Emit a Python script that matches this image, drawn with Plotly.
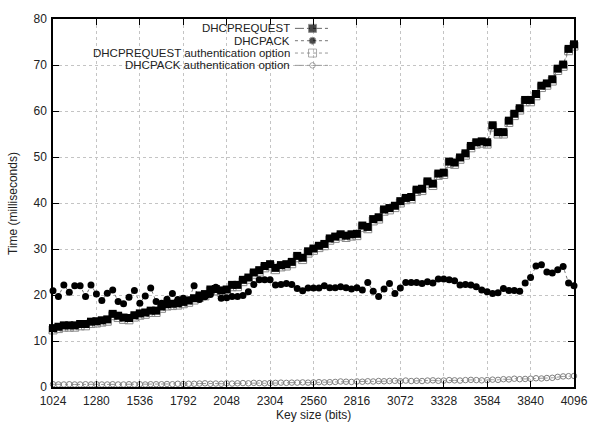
import plotly.graph_objects as go

# ---------------- data ----------------
KEY_BITS = list(range(1024, 4097, 32))  # 97 key sizes, step 32 bits

DHCPREQUEST = [
    12.8, 13.1, 13.4, 13.4, 13.4, 13.7, 13.7, 14.2, 14.3, 14.5,
    14.7, 15.9, 15.5, 15.1, 15.0, 15.6, 16.0, 16.2, 16.6, 16.6,
    17.5, 18.0, 18.1, 18.2, 18.5, 18.8, 19.3, 19.9, 20.2, 21.2,
    21.3, 21.0, 21.2, 22.2, 22.2, 23.3, 23.8, 24.9, 25.4, 26.3,
    26.7, 25.9, 26.5, 26.7, 27.2, 28.5, 28.1, 29.5, 30.1, 30.7,
    31.1, 32.3, 32.7, 33.2, 32.9, 33.2, 33.3, 35.1, 34.8, 36.5,
    36.9, 38.6, 38.9, 39.4, 40.4, 41.1, 41.3, 42.9, 43.1, 44.7,
    44.2, 46.4, 46.6, 49.0, 48.8, 49.9, 50.8, 52.4, 53.2, 53.4,
    53.2, 56.9, 55.4, 55.4, 57.9, 59.4, 60.6, 62.4, 62.4, 63.7,
    65.5, 66.0, 66.9, 69.2, 70.1, 73.5, 74.5,
]

DHCPACK = [
    20.9, 19.7, 22.2, 20.6, 22.0, 22.0, 19.7, 22.2, 20.2, 18.8,
    20.4, 21.1, 18.6, 18.1, 19.5, 21.0, 18.2, 19.8, 21.5, 18.6,
    18.2, 19.1, 20.3, 19.0, 19.3, 18.9, 22.0, 19.0, 19.6, 20.1,
    21.7, 19.3, 19.4, 19.7, 19.7, 19.9, 20.7, 22.3, 23.3, 23.3,
    23.3, 22.2, 22.3, 22.5, 22.3, 21.4, 20.9, 21.5, 21.5, 21.5,
    22.0, 21.6, 21.6, 21.8, 21.6, 21.3, 21.6, 21.1, 22.7, 20.8,
    19.7, 21.3, 22.5, 20.3, 21.5, 22.7, 22.7, 22.7, 22.5, 22.9,
    22.6, 23.5, 23.5, 23.3, 23.1, 22.2, 22.3, 22.2, 21.8, 21.1,
    20.7, 20.3, 20.5, 21.4, 21.0, 21.0, 20.8, 22.6, 23.8, 26.3,
    26.6, 25.0, 24.8, 25.5, 26.2, 22.6, 22.0,
]

DHCPREQUEST_AUTH = [
    12.4, 12.7, 13.0, 13.0, 13.0, 13.3, 13.3, 13.8, 13.9, 14.1,
    14.3, 15.5, 15.1, 14.7, 14.6, 15.2, 15.6, 15.8, 16.2, 16.2,
    17.1, 17.6, 17.7, 17.8, 18.1, 18.4, 18.9, 19.5, 19.8, 20.8,
    20.9, 20.6, 20.8, 21.8, 21.8, 22.9, 23.4, 24.5, 25.0, 25.9,
    26.3, 25.5, 26.1, 26.3, 26.8, 28.1, 27.7, 29.1, 29.7, 30.3,
    30.7, 31.9, 32.3, 32.8, 32.5, 32.8, 32.9, 34.7, 34.4, 36.1,
    36.5, 38.2, 38.5, 39.0, 40.0, 40.7, 40.9, 42.5, 42.7, 44.3,
    43.8, 46.0, 46.2, 48.6, 48.4, 49.5, 50.4, 52.0, 52.8, 53.0,
    52.8, 56.5, 55.0, 55.0, 57.5, 59.0, 60.2, 62.0, 62.0, 63.3,
    65.1, 65.6, 66.5, 68.8, 69.7, 73.1, 74.1,
]

DHCPACK_AUTH = [
    0.60, 0.55, 0.55, 0.60, 0.55, 0.55, 0.60, 0.55, 0.60, 0.55,
    0.55, 0.60, 0.55, 0.55, 0.60, 0.55, 0.60, 0.55, 0.60, 0.60,
    0.60, 0.65, 0.60, 0.70, 0.65, 0.70, 0.70, 0.75, 0.80, 0.70,
    0.75, 0.70, 0.80, 0.75, 0.80, 0.85, 0.80, 0.90, 0.85, 0.80,
    0.85, 0.90, 0.95, 0.90, 0.95, 0.95, 1.00, 0.95, 1.00, 1.05,
    1.00, 1.05, 1.10, 1.20, 1.15, 1.10, 1.20, 1.15, 1.25, 1.20,
    1.30, 1.25, 1.30, 1.35, 1.25, 1.40, 1.30, 1.35, 1.30, 1.40,
    1.45, 1.35, 1.40, 1.50, 1.45, 1.40, 1.50, 1.55, 1.50, 1.45,
    1.50, 1.60, 1.55, 1.70, 1.65, 1.80, 1.70, 1.75, 1.80, 1.90,
    1.85, 1.95, 2.00, 2.20, 2.30, 2.35, 2.40,
]

X_TICKS = [1024, 1280, 1536, 1792, 2048, 2304, 2560, 2816, 3072, 3328, 3584, 3840, 4096]
Y_TICKS = [0, 10, 20, 30, 40, 50, 60, 70, 80]

SERIES_NAMES = [
    "DHCPREQUEST",
    "DHCPACK",
    "DHCPREQUEST authentication option",
    "DHCPACK authentication option",
]

# ---------------- style ----------------
FONT = "Liberation Sans, Arial, Helvetica, sans-serif"
W, H = 600, 426
L, R, T, B = 53, 13, 14, 39   # plot area margins (px)

styles = {
    "DHCPREQUEST": dict(dash="dashdot", lcolor="#666666",
                        marker=dict(symbol="square", size=8, color="black")),
    "DHCPACK": dict(dash="dot", lcolor="#777777",
                    marker=dict(symbol="circle", size=7, color="black")),
    "DHCPREQUEST authentication option": dict(
        dash="dot", lcolor="#999999",
        marker=dict(symbol="square-open", size=8, color="#8a8a8a", line=dict(width=1))),
    "DHCPACK authentication option": dict(
        dash="dashdot", lcolor="#999999",
        marker=dict(symbol="circle-open", size=5.5, color="#808080", line=dict(width=1))),
}

data_map = {
    "DHCPREQUEST": DHCPREQUEST,
    "DHCPACK": DHCPACK,
    "DHCPREQUEST authentication option": DHCPREQUEST_AUTH,
    "DHCPACK authentication option": DHCPACK_AUTH,
}

fig = go.Figure()

# draw auth series first so the filled markers sit on top
for name in [SERIES_NAMES[3], SERIES_NAMES[2], SERIES_NAMES[1], SERIES_NAMES[0]]:
    st = styles[name]
    fig.add_trace(go.Scatter(
        x=KEY_BITS, y=data_map[name], name=name, mode="lines+markers",
        line=dict(color=st["lcolor"], width=1, dash=st["dash"]),
        marker=st["marker"], cliponaxis=False, showlegend=False,
    ))

# ---- gnuplot-style key (text right-aligned, sample to its right) ----
plot_w = W - L - R
plot_h = H - T - B


def px_to_paper_x(px):
    return (px - L) / plot_w


def px_to_paper_y(py):
    return (H - B - py) / plot_h


key_rows_y = [23.5, 36, 48.5, 61]
key_text_right = 297
key_line = [301, 319, 336]

for name, ry in zip(SERIES_NAMES, key_rows_y):
    st = styles[name]
    fig.add_annotation(
        x=px_to_paper_x(key_text_right), y=px_to_paper_y(ry), xref="paper", yref="paper",
        text=name, showarrow=False, xanchor="right", yanchor="middle",
        height=12, borderpad=0, valign="middle",
        font=dict(family=FONT, size=11.5, color="#222222"),
    )
    mk = dict(st["marker"])
    mk["size"] = [0, st["marker"]["size"], 0]
    fig.add_trace(go.Scatter(
        x=key_line, y=[ry, ry, ry], mode="lines+markers", xaxis="x2", yaxis="y2",
        line=dict(color=st["lcolor"], width=1, dash=st["dash"]),
        marker=mk, showlegend=False, hoverinfo="skip", cliponaxis=False,
    ))

# white patches behind the key (gnuplot hides grid there)
fig.add_shape(type="rect", xref="paper", yref="paper", layer="between",
              x0=px_to_paper_x(90), x1=px_to_paper_x(342),
              y0=px_to_paper_y(56), y1=px_to_paper_y(T + 1),
              fillcolor="white", line=dict(width=0))
fig.add_shape(type="rect", xref="paper", yref="paper", layer="between",
              x0=px_to_paper_x(122), x1=px_to_paper_x(342),
              y0=px_to_paper_y(66), y1=px_to_paper_y(55),
              fillcolor="white", line=dict(width=0))

# axis titles
fig.add_annotation(x=px_to_paper_x(12), y=0.5, xref="paper", yref="paper",
                   text="Time (milliseconds)", textangle=-90, showarrow=False,
                   xanchor="center", yanchor="middle",
                   font=dict(family=FONT, size=12, color="#222222"))
fig.add_annotation(x=0.5, y=px_to_paper_y(415), xref="paper", yref="paper",
                   text="Key size (bits)", showarrow=False,
                   xanchor="center", yanchor="middle",
                   font=dict(family=FONT, size=12, color="#222222"))

axis_common = dict(
    showline=True, linecolor="black", linewidth=1.5, mirror="ticks",
    ticks="inside", ticklen=6, tickwidth=1, tickcolor="black",
    showgrid=True, gridcolor="#c4c4c4", gridwidth=1, griddash="dot",
    zeroline=False, tickfont=dict(family=FONT, size=12, color="#222222"),
)

fig.update_layout(
    width=W, height=H,
    margin=dict(l=L, r=R, t=T, b=B, pad=0),
    paper_bgcolor="white", plot_bgcolor="white",
    xaxis=dict(range=[1024, 4096], tickvals=X_TICKS, ticktext=[str(v) for v in X_TICKS],
               ticklabelstandoff=2, **axis_common),
    yaxis=dict(range=[0, 80], tickvals=Y_TICKS, ticklabelstandoff=2, **axis_common),
    xaxis2=dict(overlaying="x", range=[L, W - R], visible=False, anchor="y2"),
    yaxis2=dict(overlaying="y", range=[H - B, T], visible=False, anchor="x2"),
    showlegend=False,
)

fig.write_html("out.html")
